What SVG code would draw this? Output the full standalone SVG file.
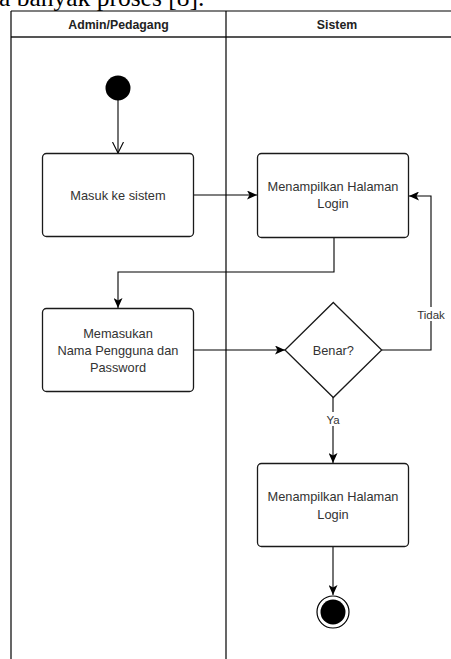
<svg xmlns="http://www.w3.org/2000/svg" width="451" height="659" viewBox="0 0 451 659">
  <style>
    .box { fill: #fff; stroke: #1a1a1a; stroke-width: 1.3; }
    .lbl { font-family: "Liberation Sans", Arial, sans-serif; font-size: 12.8px; fill: #333; text-anchor: middle; }
    .hdr { font-family: "Liberation Sans", Arial, sans-serif; font-size: 12.3px; font-weight: bold; fill: #222; text-anchor: middle; }
    .edge { fill: none; stroke: #000; stroke-width: 1.1; }
    .elbl { font-family: "Liberation Sans", Arial, sans-serif; font-size: 11.5px; fill: #333; text-anchor: middle; }
    .lane { stroke: #000; stroke-width: 1.2; fill: none; }
  </style>
  <defs>
    <marker id="arr" markerUnits="userSpaceOnUse" markerWidth="11" markerHeight="9" refX="10" refY="4.5" orient="auto">
      <path d="M0,0 L10,4.5 L0,9 L2.5,4.5 z" fill="#000"/>
    </marker>
    <marker id="open" markerUnits="userSpaceOnUse" markerWidth="12" markerHeight="14" refX="11" refY="6" orient="auto">
      <path d="M0,0.5 L11,6 L0,11.5" fill="none" stroke="#000" stroke-width="1.1"/>
    </marker>
  </defs>
  <rect x="0" y="0" width="451" height="659" fill="#fff"/>
  <text x="-1" y="5.5" font-family="Liberation Serif, 'Times New Roman', serif" font-size="25.5" fill="#000">a banyak proses [8].</text>

  <g id="lanes">
    <line class="lane" x1="11" y1="11" x2="451" y2="11"/>
    <line x1="11" y1="37" x2="451" y2="37" stroke="#555" stroke-width="2"/>
    <line class="lane" x1="11" y1="11" x2="11" y2="659"/>
    <line class="lane" x1="226" y1="11" x2="226" y2="659"/>
    <text class="hdr" x="118.5" y="29">Admin/Pedagang</text>
    <text class="hdr" x="337" y="29">Sistem</text>
  </g>

  <g id="connectors">
    <path class="edge" d="M118,100 L118,153" marker-end="url(#open)"/>
    <path class="edge" d="M193,195 L257,195" marker-end="url(#arr)"/>
    <path class="edge" d="M334,237 L334,272 L118,272 L118,308" marker-end="url(#arr)"/>
    <path class="edge" d="M193,350 L285,350" marker-end="url(#arr)"/>
    <path class="edge" d="M382,350 L431,350 L431,196 L409,196" marker-end="url(#arr)"/>
    <path class="edge" d="M333,397 L333,463" marker-end="url(#arr)"/>
    <path class="edge" d="M333,547 L333,595" marker-end="url(#arr)"/>
    <rect x="416" y="307" width="30" height="14" fill="#fff"/>
    <text class="elbl" x="431" y="318.5">Tidak</text>
    <rect x="325" y="412" width="16" height="14" fill="#fff"/>
    <text class="elbl" x="333" y="423.5">Ya</text>
  </g>

  <g id="start">
    <circle cx="118" cy="88" r="12.5" fill="#000"/>
  </g>
  <g id="masuk">
    <rect class="box" x="42.5" y="153.5" width="151" height="83" rx="4"/>
    <text class="lbl" x="118" y="199.5">Masuk ke sistem</text>
  </g>
  <g id="tampil1">
    <rect class="box" x="257.5" y="153.5" width="151" height="84" rx="4"/>
    <text class="lbl" x="333" y="191">Menampilkan Halaman</text>
    <text class="lbl" x="333" y="207.5">Login</text>
  </g>
  <g id="input">
    <rect class="box" x="42.5" y="308.5" width="151" height="83" rx="4"/>
    <text class="lbl" x="118" y="337.5">Memasukan</text>
    <text class="lbl" x="118" y="354.5">Nama Pengguna dan</text>
    <text class="lbl" x="118" y="371.5">Password</text>
  </g>
  <g id="benar">
    <path class="box" d="M333.3,302.5 L381.7,350 L333.3,397.5 L285,350 z"/>
    <text class="lbl" x="333.3" y="354.5">Benar?</text>
  </g>
  <g id="tampil2">
    <rect class="box" x="257.5" y="463.5" width="151" height="83" rx="4"/>
    <text class="lbl" x="333" y="501">Menampilkan Halaman</text>
    <text class="lbl" x="333" y="518.5">Login</text>
  </g>
  <g id="end">
    <circle cx="333" cy="612" r="16" fill="#fff" stroke="#000" stroke-width="1.2"/>
    <circle cx="333" cy="612" r="12.5" fill="#000"/>
  </g>
</svg>
